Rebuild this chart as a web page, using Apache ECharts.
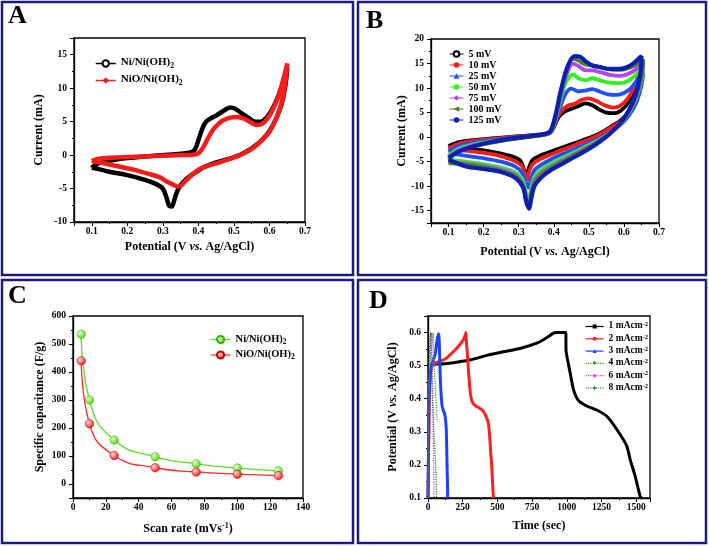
<!DOCTYPE html>
<html><head><meta charset="utf-8">
<script src="https://cdn.jsdelivr.net/npm/echarts/dist/echarts.min.js"></script>
<style>html,body{margin:0;padding:0;background:#fff}#c{width:709px;height:546px}</style>
</head><body><div id="c"></div>
<script>
// ---------- Panel A : CV of two electrodes (potential V, current mA) ----------
const aNi = [[0.1,-1.9],[0.11,-1.45],[0.13,-1.05],[0.16,-0.75],[0.2,-0.45],[0.25,-0.2],[0.3,0],[0.35,0.2],[0.38,0.45],[0.39,0.8],[0.4,2.2],[0.41,3.8],[0.42,4.9],[0.435,5.5],[0.45,5.9],[0.47,6.6],[0.49,7.1],[0.505,6.9],[0.52,6.3],[0.54,5.6],[0.56,5.0],[0.575,5.0],[0.59,5.5],[0.605,6.6],[0.62,8.2],[0.635,10.3],[0.65,13.0],
  [0.645,10.5],[0.635,7.8],[0.62,5.6],[0.6,3.6],[0.58,2.3],[0.55,1.0],[0.52,0.1],[0.49,-0.5],[0.45,-1.1],[0.42,-1.7],[0.4,-2.3],[0.38,-3.0],[0.36,-3.9],[0.345,-4.9],[0.335,-6.2],[0.325,-7.7],[0.318,-7.6],[0.31,-6.3],[0.3,-5.0],[0.28,-4.3],[0.25,-3.7],[0.2,-3.0],[0.15,-2.5],[0.12,-2.1],[0.1,-1.9]];
const aNiO = [[0.1,-0.85],[0.12,-0.55],[0.15,-0.4],[0.2,-0.3],[0.25,-0.2],[0.3,-0.1],[0.35,0],[0.39,0.1],[0.405,0.5],[0.415,1.3],[0.425,2.3],[0.44,3.7],[0.455,4.6],[0.47,5.2],[0.49,5.6],[0.51,5.7],[0.53,5.4],[0.55,4.8],[0.565,4.5],[0.58,4.7],[0.595,5.5],[0.61,6.9],[0.625,8.8],[0.64,11.5],[0.65,13.7],
  [0.645,11.0],[0.635,8.0],[0.62,5.6],[0.6,3.5],[0.58,2.3],[0.555,1.1],[0.53,0.3],[0.5,-0.35],[0.47,-0.9],[0.44,-1.4],[0.41,-1.9],[0.39,-2.6],[0.375,-3.3],[0.36,-4.1],[0.35,-4.6],[0.34,-4.7],[0.33,-4.45],[0.31,-3.9],[0.29,-3.3],[0.26,-2.8],[0.22,-2.2],[0.18,-1.75],[0.14,-1.3],[0.1,-0.85]];

// ---------- Panel B : CV at different scan rates ----------
const b5 = [[0.1,-1.8],[0.13,-1.0],[0.18,-0.55],[0.25,-0.1],[0.32,0.3],[0.37,0.6],[0.39,0.9],[0.4,2.0],[0.41,3.6],[0.42,4.6],[0.44,5.5],[0.47,6.3],[0.49,6.9],[0.51,6.5],[0.53,5.6],[0.55,5.0],[0.575,4.9],[0.595,5.6],[0.615,7.3],[0.635,10],[0.65,13.5],
  [0.645,10.5],[0.63,7.0],[0.61,4.8],[0.59,3.4],[0.56,2.0],[0.53,0.7],[0.5,-0.2],[0.46,-1.2],[0.42,-2.2],[0.39,-3.0],[0.36,-3.8],[0.34,-4.6],[0.33,-6.0],[0.323,-7.9],[0.316,-6.8],[0.305,-4.8],[0.28,-3.9],[0.24,-3.2],[0.19,-2.6],[0.14,-2.3],[0.1,-2.0]];
const b10 = [[0.1,-2.3],[0.13,-1.3],[0.18,-0.7],[0.25,-0.2],[0.32,0.25],[0.37,0.55],[0.39,0.9],[0.4,2.2],[0.41,4.0],[0.425,5.6],[0.44,6.4],[0.46,6.8],[0.48,7.6],[0.5,7.9],[0.52,7.4],[0.545,6.5],[0.57,6.0],[0.59,6.4],[0.61,7.8],[0.63,10.3],[0.65,14.5],
  [0.645,11],[0.63,7.5],[0.61,4.8],[0.59,3.2],[0.56,1.8],[0.53,0.5],[0.5,-0.5],[0.46,-1.6],[0.42,-2.7],[0.39,-3.6],[0.36,-4.5],[0.34,-5.5],[0.33,-7.0],[0.325,-8.6],[0.318,-7.6],[0.308,-5.8],[0.28,-4.6],[0.24,-3.7],[0.19,-3.1],[0.14,-2.7],[0.1,-2.4]];
const b25 = [[0.1,-3.0],[0.13,-1.8],[0.18,-1.0],[0.25,-0.4],[0.32,0.15],[0.37,0.5],[0.39,1.0],[0.405,3.2],[0.42,6.5],[0.435,9.0],[0.45,9.9],[0.47,9.3],[0.49,9.5],[0.51,9.8],[0.53,9.3],[0.555,8.7],[0.58,8.6],[0.6,9.0],[0.62,10.0],[0.64,11.8],[0.655,13.0],
  [0.65,10.5],[0.635,7.0],[0.615,4.5],[0.59,2.5],[0.56,1.0],[0.53,-0.2],[0.5,-1.2],[0.46,-2.4],[0.42,-3.6],[0.39,-4.6],[0.365,-5.6],[0.345,-6.7],[0.335,-8.5],[0.328,-10.3],[0.32,-9.2],[0.31,-7.3],[0.29,-6.0],[0.25,-5.0],[0.2,-4.3],[0.15,-3.8],[0.1,-3.3]];
const b50 = [[0.1,-3.8],[0.13,-2.3],[0.18,-1.3],[0.25,-0.6],[0.32,0.05],[0.37,0.45],[0.39,1.0],[0.405,3.6],[0.42,7.8],[0.435,11.2],[0.455,12.8],[0.47,12.0],[0.49,11.6],[0.51,12.0],[0.53,11.6],[0.56,11.1],[0.59,11.0],[0.61,11.4],[0.63,12.4],[0.645,13.6],[0.655,14.5],
  [0.65,11.5],[0.635,8.0],[0.615,5.0],[0.59,2.7],[0.56,0.9],[0.53,-0.5],[0.5,-1.6],[0.46,-3.0],[0.42,-4.4],[0.39,-5.5],[0.365,-6.6],[0.345,-8.0],[0.335,-10.5],[0.33,-12.9],[0.322,-11.5],[0.312,-8.8],[0.29,-7.2],[0.25,-6.2],[0.2,-5.5],[0.15,-5.0],[0.1,-4.6]];
const b75 = [[0.1,-4.2],[0.13,-2.6],[0.18,-1.5],[0.25,-0.7],[0.32,0],[0.37,0.45],[0.39,1.0],[0.405,3.8],[0.42,8.5],[0.435,12.5],[0.455,15.0],[0.47,14.5],[0.49,13.6],[0.51,13.6],[0.53,13.3],[0.56,12.7],[0.59,12.5],[0.61,12.8],[0.63,13.6],[0.645,14.6],[0.655,15.3],
  [0.65,12.0],[0.635,8.3],[0.615,5.2],[0.59,2.8],[0.56,0.9],[0.53,-0.7],[0.5,-1.9],[0.46,-3.4],[0.42,-4.9],[0.39,-6.1],[0.365,-7.3],[0.345,-8.8],[0.335,-11.5],[0.33,-14.0],[0.322,-12.5],[0.312,-9.5],[0.29,-7.7],[0.25,-6.6],[0.2,-5.9],[0.15,-5.4],[0.1,-5.0]];
const b100 = [[0.1,-4.6],[0.13,-2.9],[0.18,-1.7],[0.25,-0.8],[0.32,-0.05],[0.37,0.45],[0.39,1.0],[0.405,4.0],[0.42,9.0],[0.435,13.5],[0.455,16.0],[0.47,15.6],[0.49,14.8],[0.51,14.6],[0.53,14.3],[0.56,13.8],[0.59,13.7],[0.61,14.0],[0.63,14.6],[0.645,15.3],[0.655,15.8],
  [0.65,12.3],[0.635,8.5],[0.615,5.3],[0.59,2.8],[0.56,0.8],[0.53,-0.8],[0.5,-2.1],[0.46,-3.7],[0.42,-5.2],[0.39,-6.4],[0.365,-7.7],[0.345,-9.3],[0.335,-12.0],[0.33,-14.4],[0.322,-13.0],[0.312,-9.9],[0.29,-8.0],[0.25,-6.9],[0.2,-6.1],[0.15,-5.6],[0.1,-5.3]];
const b125 = [[0.1,-4.2],[0.13,-2.9],[0.18,-1.7],[0.25,-0.6],[0.32,0.1],[0.37,0.6],[0.39,1.2],[0.405,4.5],[0.42,9.5],[0.44,14.5],[0.46,16.5],[0.475,16.4],[0.49,15.5],[0.51,14.6],[0.53,14.3],[0.56,13.9],[0.59,13.9],[0.61,14.3],[0.63,15.2],[0.645,16.2],[0.65,16.5],
  [0.648,13.5],[0.635,9.0],[0.615,5.6],[0.59,2.9],[0.56,0.7],[0.53,-1.0],[0.5,-2.4],[0.46,-4.0],[0.42,-5.6],[0.39,-6.8],[0.365,-8.2],[0.345,-10.0],[0.335,-12.8],[0.33,-14.6],[0.322,-13.3],[0.312,-10.2],[0.29,-8.3],[0.25,-7.1],[0.2,-6.5],[0.15,-6.0],[0.1,-4.6]];

// ---------- Panel C : specific capacitance vs scan rate ----------
const cScan = [5, 10, 25, 50, 75, 100, 125];
const cNi   = [535, 300, 157, 97, 72, 57, 47];
const cNiO  = [440, 215, 102, 58, 43, 35, 30];

// ---------- Panel D : galvanostatic charge/discharge (time s, potential V) ----------
const d1 = [[20,0.5],[38,0.504],[100,0.505],[183,0.509],[303,0.517],[423,0.531],[543,0.542],[663,0.552],[784,0.568],[850,0.583],[904,0.598],[930,0.6],[993,0.6],[995,0.545],[1005,0.52],[1024,0.479],[1048,0.428],[1072,0.402],[1096,0.39],[1144,0.378],[1216,0.366],[1289,0.347],[1361,0.307],[1433,0.257],[1457,0.216],[1493,0.166],[1529,0.105],[1540,0.1]];
const d2 = [[0,0.1],[6,0.3],[12,0.45],[30,0.5],[62,0.51],[125,0.52],[159,0.533],[197,0.548],[230,0.564],[255,0.578],[268,0.592],[274,0.6],[276,0.575],[282,0.545],[291,0.489],[300,0.44],[308,0.408],[320,0.39],[339,0.38],[370,0.372],[399,0.362],[420,0.345],[435,0.325],[442,0.3],[447,0.27],[453,0.23],[459,0.2],[465,0.15],[471,0.1]];
const d3 = [[0,0.1],[8,0.4],[18,0.48],[29,0.506],[45,0.525],[53,0.536],[60,0.56],[65,0.576],[72,0.59],[77,0.596],[80,0.58],[82,0.556],[86,0.5],[89,0.455],[95,0.41],[101,0.38],[110,0.365],[120,0.354],[127,0.335],[132,0.304],[135,0.25],[137,0.2],[140,0.15],[142,0.1]];
const d4 = [[0,0.1],[5,0.42],[12,0.5],[25,0.55],[38,0.6],[42,0.55],[48,0.48],[55,0.42],[62,0.36],[66,0.33]];
const d6 = [[0,0.1],[4,0.4],[10,0.5],[20,0.57],[27,0.6],[30,0.52],[34,0.42],[38,0.3],[41,0.2],[43,0.1]];
const d8 = [[0,0.1],[3,0.45],[10,0.55],[18,0.6],[24,0.5],[32,0.4],[42,0.3],[55,0.2],[62,0.1]];

// ---------- labels ----------
const legendText = {
  a1: '{t|Ni/Ni(OH)}{s|2}', a2: '{t|NiO/Ni(OH)}{s|2}',
  b1: '5 mV', b2: '10 mV', b3: '25 mV', b4: '50 mV', b5: '75 mV', b6: '100 mV', b7: '125 mV',
  c1: '{t|Ni/Ni(OH)}{s|2}', c2: '{t|NiO/Ni(OH)}{s|2}',
  d1: '{t|1 mAcm}{p|-2}', d2: '{t|2 mAcm}{p|-2}', d3: '{t|3 mAcm}{p|-2}', d4: '{t|4 mAcm}{p|-2}', d5: '{t|6 mAcm}{p|-2}', d6: '{t|8 mAcm}{p|-2}'
};

const FF = '"Liberation Serif","Times New Roman",serif';
const NAVY = '#1c1c7e';
const plain = v => String(v);

function axis(grid, extra) {
  return Object.assign({
    gridIndex: grid, type: 'value',
    axisLine: {show: true, onZero: false, lineStyle: {color: '#000', width: 1.3}},
    axisTick: {show: true, inside: false, length: 4, lineStyle: {color: '#000', width: 1}},
    minorTick: {show: true, splitNumber: 2, length: 2, lineStyle: {color: '#000', width: 1}},
    splitLine: {show: false}, minorSplitLine: {show: false},
    axisLabel: xLabels({}),
    nameLocation: 'middle',
    nameTextStyle: {color: '#000', fontFamily: FF, fontWeight: 'bold', fontSize: 12,
      rich: {
        b: {fontFamily: FF, fontWeight: 'bold', fontSize: 12, color: '#000'},
        i: {fontFamily: FF, fontWeight: 'bold', fontStyle: 'italic', fontSize: 12, color: '#000'},
        p: {fontFamily: FF, fontWeight: 'bold', fontSize: 8, color: '#000', padding: [0, 0, 6, 0]}
      }}
  }, extra);
}
function xLabels(extra) { return Object.assign({color: '#000', fontFamily: FF, fontWeight: 'bold', fontSize: 9.5, margin: 5, formatter: plain}, extra); }
function yLabels(extra) { return Object.assign({color: '#000', fontFamily: FF, fontWeight: 'bold', fontSize: 9.5, margin: 7, formatter: plain}, extra); }

const potName = '{b|Potential (V }{i|vs.}{b| Ag/AgCl)}';

function legendStyle(fs, lh) {
  const small = Math.round(fs * 0.7 * 10) / 10;
  return {color: '#000', fontFamily: FF, fontWeight: 'bold', fontSize: fs,
    rich: {
      t: {fontFamily: FF, fontWeight: 'bold', fontSize: fs, lineHeight: lh, padding: [0, 0, 1, 0], verticalAlign: 'top', color: '#000'},
      s: {fontFamily: FF, fontWeight: 'bold', fontSize: small, lineHeight: small + 1, verticalAlign: 'bottom', color: '#000'},
      p: {fontFamily: FF, fontWeight: 'bold', fontSize: small, lineHeight: small + 1, verticalAlign: 'top', color: '#000'}
    }};
}
const fmt = n => legendText[n];

function cv(name, data, color, grid, symbol, width, extra) {
  return Object.assign({name, type: 'line', xAxisIndex: grid, yAxisIndex: grid, data, smooth: 0.3,
    showSymbol: false, symbol, symbolSize: 6, color,
    lineStyle: {color, width}, itemStyle: {color}, animation: false}, extra || {});
}
function sphere(c0, c1) {
  return {type: 'radial', x: 0.35, y: 0.35, r: 0.7, colorStops: [{offset: 0, color: c0}, {offset: 1, color: c1}]};
}

const option = {
  animation: false,
  backgroundColor: '#fff',
  grid: [
    {left: 74, top: 38, width: 231, height: 184, show: true, borderColor: '#000', borderWidth: 1.3},
    {left: 431, top: 39, width: 228, height: 184, show: true, borderColor: '#000', borderWidth: 1.3},
    {left: 73, top: 316, width: 230, height: 182, show: true, borderColor: '#000', borderWidth: 1.3},
    {left: 428, top: 316, width: 222, height: 182, show: true, borderColor: '#000', borderWidth: 1.3}
  ],
  xAxis: [
    axis(0, {min: 0.05, max: 0.7, minInterval: 0.1, maxInterval: 0.1, name: potName, nameGap: 19, axisLabel: xLabels({showMinLabel: false})}),
    axis(1, {min: 0.05, max: 0.7, minInterval: 0.1, maxInterval: 0.1, name: potName, nameGap: 23, axisLabel: xLabels({showMinLabel: false})}),
    axis(2, {min: 0, max: 140, interval: 20, name: '{b|Scan rate (mVs}{p|-1}{b|)}', nameGap: 24}),
    axis(3, {min: 0, max: 1600, interval: 250, name: 'Time (sec)', nameGap: 22, axisLabel: xLabels({showMaxLabel: false})})
  ],
  yAxis: [
    axis(0, {min: -10, max: 17.5, minInterval: 5, maxInterval: 5, name: 'Current (mA)', nameGap: 29, axisLabel: yLabels({showMaxLabel: false})}),
    axis(1, {min: -17.5, max: 20, minInterval: 5, maxInterval: 5, name: 'Current (mA)', nameGap: 13, axisLabel: yLabels({showMinLabel: false})}),
    axis(2, {min: -50, max: 600, minInterval: 100, maxInterval: 100, name: 'Specific capacitance (F/g)', nameGap: 27, axisLabel: yLabels({showMinLabel: false})}),
    axis(3, {min: 0.1, max: 0.65, minInterval: 0.1, maxInterval: 0.1, name: potName, nameGap: 29, axisLabel: yLabels({showMaxLabel: false})})
  ],
  legend: [
    {data: ['a1', 'a2'], left: 95, top: 57, orient: 'vertical', itemWidth: 20, itemHeight: 8, itemGap: 4, padding: 0,
      formatter: fmt, textStyle: legendStyle(11, 13), lineStyle: {width: 1.5}},
    {data: ['b1', 'b2', 'b3', 'b4', 'b5', 'b6', 'b7'], left: 449, top: 48.5, orient: 'vertical', itemWidth: 14, itemHeight: 7, itemGap: 0, padding: 0,
      formatter: fmt, textStyle: {color: '#000', fontFamily: FF, fontWeight: 'bold', fontSize: 10, lineHeight: 11}, lineStyle: {width: 1}},
    {data: ['c1', 'c2'], left: 210, top: 333.5, orient: 'vertical', itemWidth: 20, itemHeight: 9, itemGap: 3.5, padding: 0,
      formatter: fmt, textStyle: legendStyle(10.5, 12), lineStyle: {width: 1.2}},
    {data: ['d1', 'd2', 'd3', 'd4', 'd5', 'd6'], left: 585, top: 321, orient: 'vertical', itemWidth: 18, itemHeight: 5, itemGap: 1.3, padding: 0,
      formatter: fmt, textStyle: legendStyle(9.5, 11), lineStyle: {width: 1.2}}
  ],
  series: [
    cv('a1', aNi, '#000000', 0, 'emptyCircle', 4.5),
    cv('a2', aNiO, '#ff1a1a', 0, 'diamond', 4.5),
    cv('b1', b5, '#000000', 1, 'emptyCircle', 3.8),
    cv('b2', b10, '#ff1a1a', 1, 'circle', 3.8),
    cv('b3', b25, '#1f4fff', 1, 'triangle', 3.8),
    cv('b4', b50, '#33ee22', 1, 'circle', 3.8),
    cv('b5', b75, '#b048f0', 1, 'diamond', 3.8),
    cv('b6', b100, '#4f7f22', 1, 'triangle', 3.8, {symbolRotate: 90}),
    cv('b7', b125, '#0d1fb0', 1, 'circle', 4.2),
    {name: 'c1', type: 'line', xAxisIndex: 2, yAxisIndex: 2, data: cScan.map((x, i) => [x, cNi[i]]), smooth: 0.5,
      symbol: 'circle', symbolSize: 8.5, lineStyle: {color: '#55dd22', width: 1.3},
      itemStyle: {color: sphere('#eaffd8', '#44d400'), borderColor: '#3fb000', borderWidth: 0.5}},
    {name: 'c2', type: 'line', xAxisIndex: 2, yAxisIndex: 2, data: cScan.map((x, i) => [x, cNiO[i]]), smooth: 0.5,
      symbol: 'circle', symbolSize: 8.5, lineStyle: {color: '#ff2a2a', width: 1.3},
      itemStyle: {color: sphere('#ffdede', '#ee1010'), borderColor: '#c00000', borderWidth: 0.5}},
    cv('d1', d1, '#000000', 3, 'rect', 3, {smooth: 0.2, symbolSize: 5}),
    cv('d2', d2, '#ff1f1f', 3, 'circle', 3, {smooth: 0.2, symbolSize: 5}),
    cv('d3', d3, '#1f3fff', 3, 'triangle', 3, {smooth: 0.2, symbolSize: 5}),
    cv('d4', d4, '#2aa52a', 3, 'triangle', 1.2, {smooth: 0.2, symbolSize: 5, symbolRotate: 180, lineStyle: {color: '#2aa52a', width: 1.2, type: 'dotted'}}),
    cv('d5', d6, '#cc44ee', 3, 'diamond', 1.2, {smooth: 0.2, symbolSize: 5, lineStyle: {color: '#cc44ee', width: 1.2, type: 'dotted'}}),
    cv('d6', d8, '#2d6b2d', 3, 'path://M4,0H6V4H10V6H6V10H4V6H0V4H4Z', 1.2, {smooth: 0.2, symbolSize: 6, lineStyle: {color: '#2d6b2d', width: 1.2, type: 'dotted'}})
  ],
  graphic: [
    {type: 'rect', shape: {x: 2, y: 2, width: 351, height: 273}, style: {fill: 'none', stroke: NAVY, lineWidth: 2.5}, z: 100},
    {type: 'rect', shape: {x: 358, y: 2, width: 348, height: 273}, style: {fill: 'none', stroke: NAVY, lineWidth: 2.5}, z: 100},
    {type: 'rect', shape: {x: 2, y: 280, width: 351, height: 263}, style: {fill: 'none', stroke: NAVY, lineWidth: 2.5}, z: 100},
    {type: 'rect', shape: {x: 358, y: 280, width: 348, height: 263}, style: {fill: 'none', stroke: NAVY, lineWidth: 2.5}, z: 100},
    {type: 'text', x: 8, y: 3.5, style: {text: 'A', fontFamily: FF, fontWeight: 'bold', fontSize: 26, fill: '#000', align: 'left', verticalAlign: 'top'}, z: 100},
    {type: 'text', x: 366, y: 8.5, style: {text: 'B', fontFamily: FF, fontWeight: 'bold', fontSize: 26, fill: '#000', align: 'left', verticalAlign: 'top'}, z: 100},
    {type: 'text', x: 8, y: 283, style: {text: 'C', fontFamily: FF, fontWeight: 'bold', fontSize: 26, fill: '#000', align: 'left', verticalAlign: 'top'}, z: 100},
    {type: 'text', x: 369, y: 288.7, style: {text: 'D', fontFamily: FF, fontWeight: 'bold', fontSize: 26, fill: '#000', align: 'left', verticalAlign: 'top'}, z: 100}
  ]
};

const chart = echarts.init(document.getElementById('c'), null, {renderer: 'canvas'});
chart.setOption(option);
</script></body></html>
